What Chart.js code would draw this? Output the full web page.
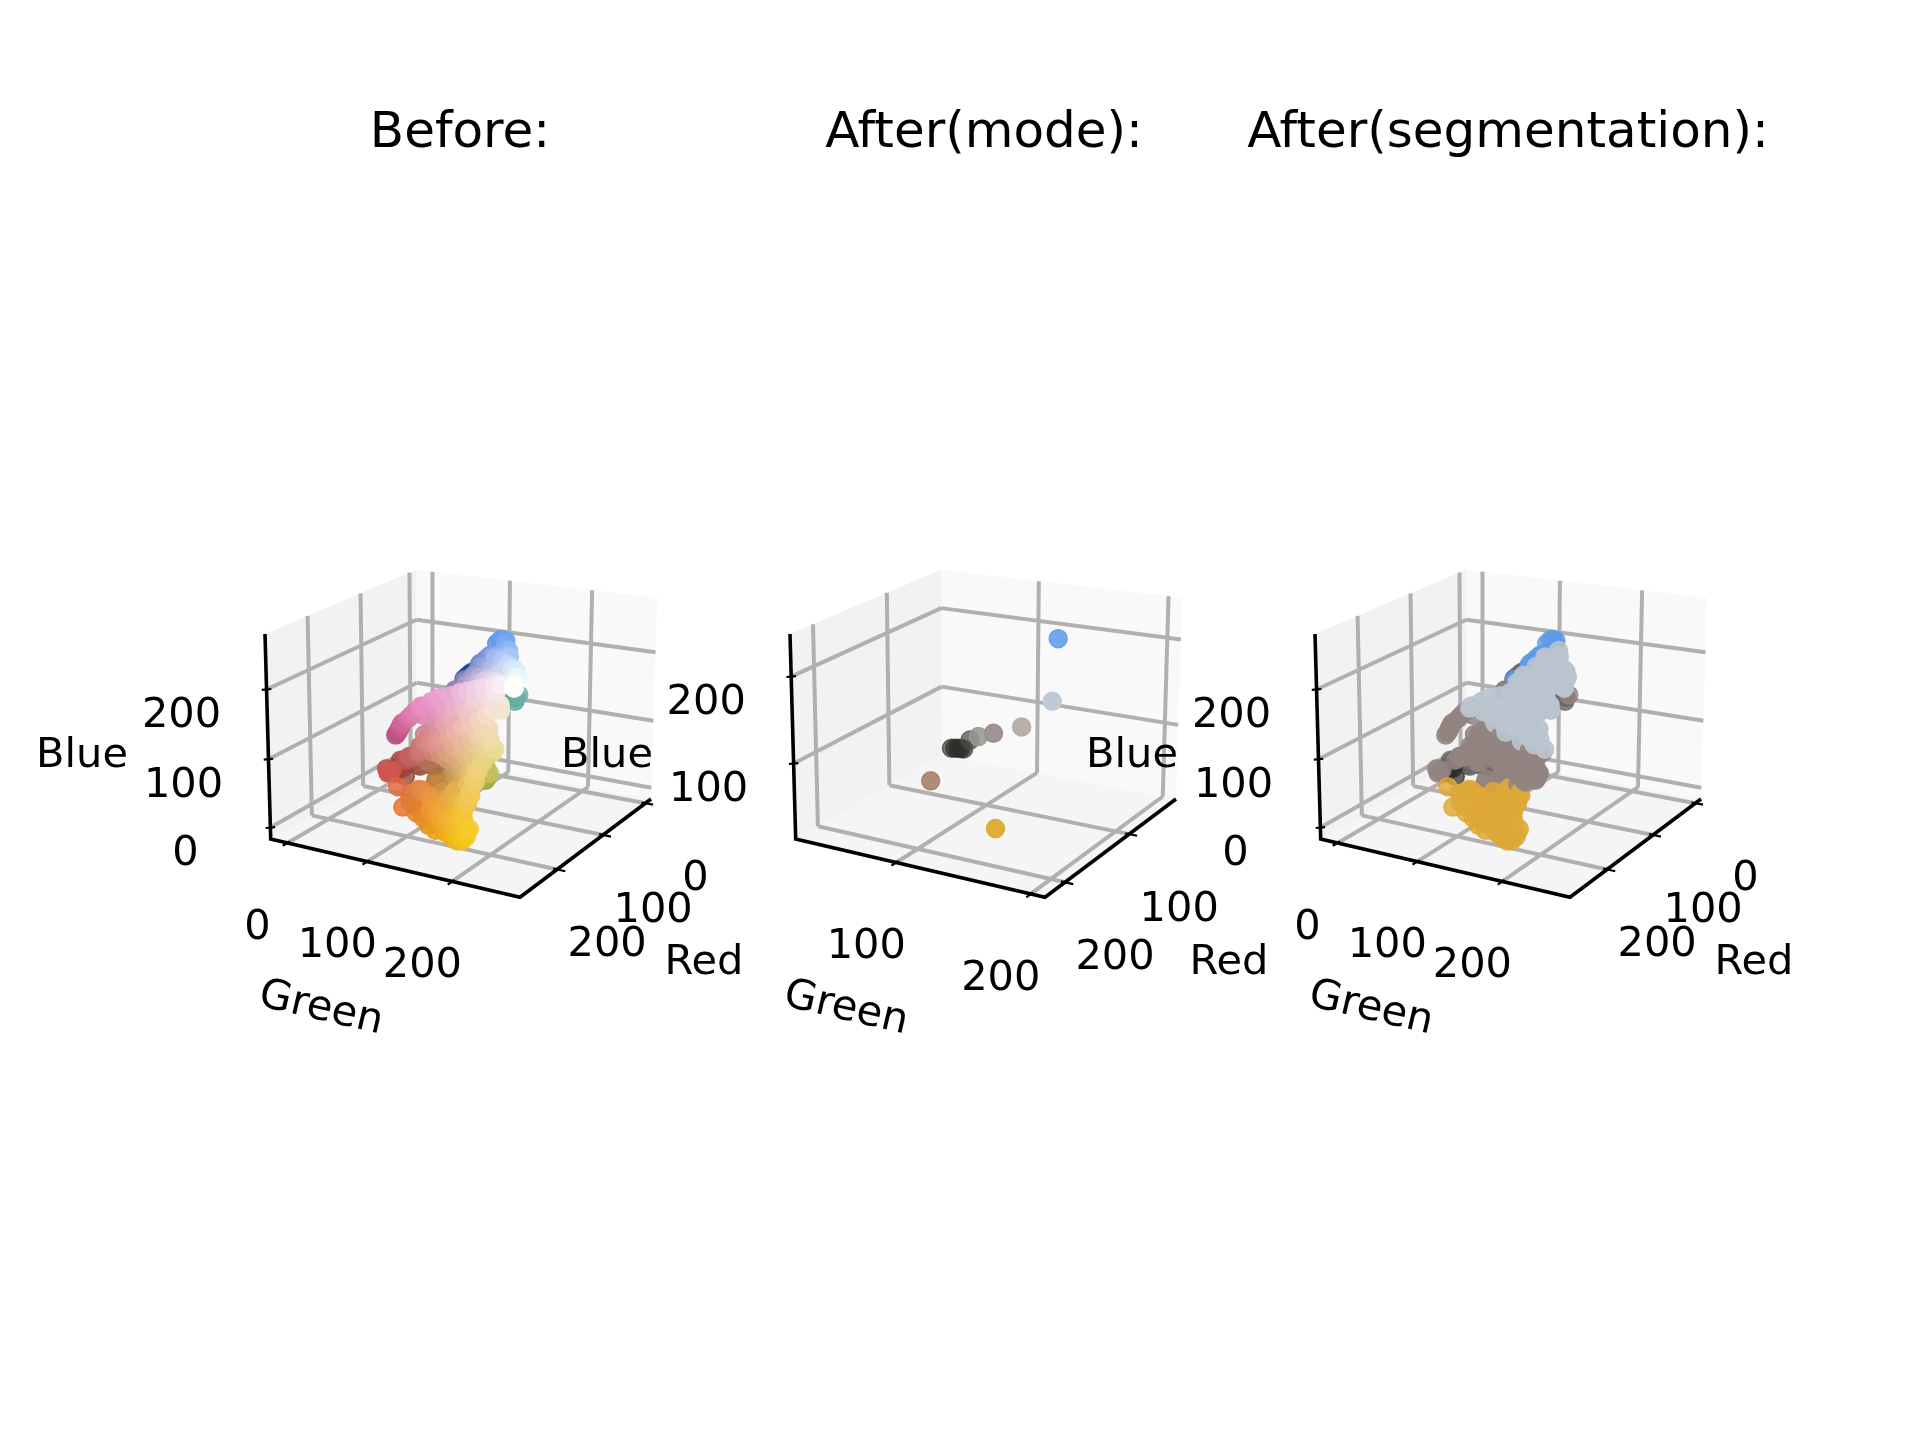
<!DOCTYPE html>
<html>
<head>
<meta charset="utf-8">
<title>Colour scatter</title>
<script src="https://cdn.jsdelivr.net/npm/chart.js@4/dist/chart.umd.js"></script>
<style>
  html, body { margin: 0; background: #fff; }
  canvas { display: block; }
</style>
</head>
<body>
<canvas id="chart" width="1920" height="1440"></canvas>
<script>
// colours of the picture (each point sits at its own colour)
const beforeRed = [
    0, 3, 8, 12, 18, 25, 32, 40,
    70, 85, 95, 100, 105, 110, 120, 130, 140, 150, 165,
    60, 75, 90, 105, 115, 125, 135, 150, 165, 180, 195, 210,
    225, 240, 250, 255, 245, 200, 215, 230,
    110, 125, 140, 155, 170, 185, 200, 215, 225, 235, 120, 135, 150, 165,
    180, 185, 190, 195, 200, 205, 210, 215, 220, 225, 230, 235,
    232, 235, 232, 235, 238, 240, 242, 245, 248,
    215, 220, 225, 230, 232, 235, 240, 242, 245,
    170, 180, 190, 200, 205, 212, 218, 222, 225, 230, 235, 238, 240, 242, 245, 245, 240, 235,
    165, 175, 185, 195,
    120, 125, 130, 135, 140, 145, 150, 155, 115, 128, 160, 140,
    205, 200, 208, 195,
    85, 95, 105, 115, 125, 135, 145, 155, 165, 110, 120, 130, 100, 125,
    175, 185, 195, 205, 212, 218, 222, 228, 232, 236, 238, 240,
    190, 200, 210, 218, 225, 230, 232, 235, 238,
    180, 195, 205, 215, 225, 232, 236,
    215, 225, 232, 205, 190, 175, 160, 150, 140, 145, 165, 180, 195,
    100, 95, 100, 105, 90,
    225, 222, 228, 230, 232, 234, 236, 238, 240, 242, 243, 244, 245,
    235, 236, 238, 240, 242, 243, 244, 245, 246, 240, 240, 238,
    232, 230, 228,
    228, 232, 235, 238, 240, 242, 244, 245,
    215, 222, 225, 220, 225, 230, 235, 240, 243,
    225, 228, 230, 232, 226, 230, 233,
    225, 222, 228,
    170, 185, 195, 205, 150, 160, 175, 190, 205, 215, 225, 130, 140, 150, 165, 180,
    215, 222, 228, 232, 236, 240, 205, 212, 218, 226, 232, 238, 190, 198, 206, 225, 235, 243,
    205, 212, 220, 226, 232, 238, 200, 210, 218, 226,
    205, 215, 222, 232, 236, 228, 232, 238, 240, 215, 225, 210, 195, 185, 175,
    150, 160, 140, 130, 170, 180,
    243, 243, 242, 240, 240
];
const beforeGreen = [
    50, 55, 60, 65, 70, 78, 85, 92,
    125, 140, 150, 155, 160, 165, 170, 175, 185, 190, 200,
    105, 115, 125, 135, 145, 155, 165, 175, 185, 200, 215, 228,
    238, 248, 252, 255, 250, 225, 235, 245,
    115, 125, 135, 145, 155, 170, 185, 200, 215, 225, 110, 120, 130, 140,
    74, 79, 84, 88, 93, 97, 102, 112, 119, 126, 135, 140,
    150, 160, 172, 185, 195, 205, 215, 228, 238,
    130, 145, 155, 165, 178, 190, 205, 218, 230,
    85, 95, 105, 115, 120, 130, 140, 150, 158, 170, 180, 190, 200, 210, 220, 228, 232, 230,
    70, 80, 90, 100,
    35, 38, 42, 45, 50, 55, 60, 65, 35, 40, 70, 60,
    82, 77, 87, 72,
    55, 62, 70, 78, 88, 95, 105, 115, 125, 65, 70, 80, 80, 105,
    130, 140, 150, 158, 165, 172, 180, 188, 196, 205, 212, 220,
    150, 160, 170, 178, 188, 196, 205, 212, 220,
    140, 155, 170, 180, 190, 200, 210,
    205, 215, 222, 195, 185, 180, 170, 165, 158, 162, 175, 185, 195,
    172, 168, 172, 178, 165,
    130, 125, 135, 140, 148, 152, 158, 165, 172, 178, 185, 190, 195,
    150, 158, 165, 172, 180, 186, 192, 198, 202, 185, 192, 195,
    165, 170, 175,
    155, 160, 165, 172, 178, 185, 192, 198,
    135, 145, 150, 150, 160, 165, 175, 185, 192,
    120, 129, 152, 140, 128, 145, 155,
    105, 117, 113,
    190, 195, 205, 215, 165, 175, 185, 190, 200, 210, 220, 145, 155, 150, 160, 175,
    150, 160, 175, 188, 200, 212, 125, 135, 148, 162, 175, 195, 110, 120, 130, 170, 205, 225,
    135, 148, 160, 172, 185, 205, 140, 155, 168, 182,
    165, 172, 180, 192, 200, 170, 180, 190, 200, 160, 165, 150, 135, 125, 120,
    85, 95, 75, 70, 105, 115,
    192, 198, 200, 205, 208
];
const beforeBlue = [
    125, 130, 135, 140, 145, 150, 158, 165,
    200, 225, 235, 238, 240, 242, 240, 238, 242, 240, 245,
    180, 185, 195, 205, 215, 225, 230, 235, 240, 245, 248, 250,
    245, 248, 248, 248, 242, 245, 250, 250,
    175, 185, 190, 195, 200, 210, 220, 230, 235, 240, 165, 170, 180, 185,
    116, 122, 128, 134, 140, 146, 152, 162, 170, 178, 187, 193,
    200, 208, 212, 220, 225, 230, 235, 240, 245,
    170, 180, 185, 190, 198, 205, 215, 225, 232,
    83, 88, 97, 108, 115, 130, 135, 140, 148, 155, 165, 175, 180, 190, 200, 210, 215, 205,
    72, 78, 86, 97,
    33, 36, 38, 40, 43, 48, 53, 58, 30, 30, 58, 35,
    75, 70, 80, 73,
    30, 35, 40, 45, 55, 60, 65, 75, 85, 45, 50, 55, 35, 50,
    95, 100, 110, 118, 125, 130, 138, 145, 155, 165, 172, 180,
    85, 95, 105, 115, 125, 135, 145, 155, 165,
    70, 80, 90, 100, 110, 120, 130,
    130, 140, 150, 115, 100, 90, 80, 70, 62, 55, 70, 85, 95,
    160, 150, 158, 165, 155,
    70, 65, 72, 70, 68, 62, 58, 55, 52, 50, 48, 50, 52,
    50, 45, 42, 40, 38, 36, 35, 38, 42, 55, 62, 72,
    60, 70, 80,
    35, 30, 28, 25, 25, 25, 28, 30,
    42, 35, 28, 40, 25, 20, 18, 18, 22,
    50, 38, 30, 35, 45, 25, 22,
    68, 60, 42,
    230, 230, 235, 240, 220, 225, 228, 225, 230, 235, 238, 210, 215, 205, 210, 218,
    175, 180, 190, 198, 205, 215, 138, 145, 160, 170, 180, 195, 112, 122, 135, 172, 200, 220,
    115, 120, 128, 140, 150, 175, 110, 112, 122, 135,
    75, 78, 82, 95, 105, 65, 70, 72, 85, 60, 55, 65, 65, 60, 60,
    60, 70, 55, 55, 80, 85,
    60, 75, 90, 105, 120
];

// the points of the middle panel and the "mode" colour each one is shown in
const modeRed = [100, 199, 178, 163, 145, 75, 48, 45, 42, 40, 38, 199, 222];
const modeGreen = [155, 199, 167, 127, 129, 73, 53, 49, 45, 41, 37, 110, 171];
const modeBlue = [221, 203, 158, 130, 126, 71, 42, 40, 38, 36, 34, 92, 69];
const modeColors = [
    [93, 155, 235], [190, 203, 214], [178, 170, 165], [150, 150, 145], [145, 130, 130], [75, 73, 68],
    [48, 48, 42], [46, 46, 40], [44, 44, 38], [42, 42, 37], [40, 40, 35], [170, 125, 105], [222, 168, 45]
];

// the colours the right panel is reduced to, and the centre each one collects around
const segmentNames = ['blue', 'silver', 'taupe', 'gold', 'dark', 'gray'];
const segmentColors = [[94, 155, 232], [186, 196, 206], [146, 132, 128], [222, 168, 56], [48, 47, 43], [105, 105, 105]];
const centerRed = [85, 195, 180, 235, 85, 105];
const centerGreen = [140, 200, 155, 175, 50, 105];
const centerBlue = [250, 215, 115, 30, 40, 105];

const panelTitles = ['Before:', 'After(mode):', 'After(segmentation):'];
const titleCenters = [460, 984, 1508];
const panelShift = [0, 525, 1050];

// axis limits and ticks, per panel
const greenLimits = [[-22, 275], [18, 210], [-22, 275]];
const redLimits = [[-14, 275], [19, 229], [-14, 275]];
const blueLimits = [[-17, 278], [11, 248], [-17, 278]];
const greenTicks = [[0, 100, 200], [100, 200], [0, 100, 200]];
const redTicks = [[0, 100, 200], [100, 200], [0, 100, 200]];
const blueTicks = [[0, 100, 200], [100, 200], [0, 100, 200]];

// box corners on the page, first panel: [green, red, blue] in 0..1
const cO = [417, 755], cU = [651, 799], cV = [270.7, 839], cUV = [520, 897.3];
const cVW = [265, 634];
const verticalVanish = [451, 7330];

function det3(a, b, c) {
    return a[0] * (b[1] * c[2] - b[2] * c[1]) - b[0] * (a[1] * c[2] - a[2] * c[1]) + c[0] * (a[1] * b[2] - a[2] * b[1]);
}

// projective camera from the corners above
const h = p => [p[0], p[1], 1];
const hO = h(cO), hU = h(cU), hV = h(cV), hUV = h(cUV);
const base = det3(hU, hV, hUV.map(n => -n));
const lu = det3(hO, hV, hUV.map(n => -n)) / base;
const lv = det3(hU, hO, hUV.map(n => -n)) / base;
const camU = [0, 1, 2].map(i => lu * hU[i] - hO[i]);
const camV = [0, 1, 2].map(i => lv * hV[i] - hO[i]);
const kappa = lv * (cVW[1] - cV[1]) / (verticalVanish[1] - cVW[1]);
const camW = [verticalVanish[0] * kappa, verticalVanish[1] * kappa, kappa];

function unit(u, v, w, panel) {
    const p = [0, 1, 2].map(i => u * camU[i] + v * camV[i] + w * camW[i] + hO[i]);
    return { x: p[0] / p[2] + panelShift[panel], y: p[1] / p[2] };
}

function project(r, g, b, panel) {
    const u = (g - greenLimits[panel][0]) / (greenLimits[panel][1] - greenLimits[panel][0]);
    const v = (r - redLimits[panel][0]) / (redLimits[panel][1] - redLimits[panel][0]);
    const w = (b - blueLimits[panel][0]) / (blueLimits[panel][1] - blueLimits[panel][0]);
    return unit(u, v, w, panel);
}

const gap = { x: NaN, y: NaN };

function frac(value, limits) {
    return (value - limits[0]) / (limits[1] - limits[0]);
}

function lineSet(data, color, width, order) {
    return { data, showLine: true, borderColor: color, borderWidth: width, pointRadius: 0, fill: false, order, borderCapStyle: 'butt', borderJoinStyle: 'miter' };
}

function paneSet(panel, corners, color) {
    return {
        data: corners.map(c => unit(c[0], c[1], c[2], panel)),
        showLine: true, borderWidth: 0, borderColor: 'rgba(0,0,0,0)', backgroundColor: color, pointRadius: 0, fill: 'shape', order: 100
    };
}

function frameSets(panel) {
    const grid = [];
    const ticks = [];
    const seg = (list, a, b) => list.push(unit(a[0], a[1], a[2], panel), unit(b[0], b[1], b[2], panel), gap);
    greenTicks[panel].forEach(t => {
        const u = frac(t, greenLimits[panel]);
        seg(grid, [u, 1, 0], [u, 0, 0]);
        seg(grid, [u, 0, 0], [u, 0, 1]);
        seg(ticks, [u, 0.985, 0], [u, 1.03, 0]);
    });
    redTicks[panel].forEach(t => {
        const v = frac(t, redLimits[panel]);
        seg(grid, [1, v, 0], [0, v, 0]);
        seg(grid, [0, v, 0], [0, v, 1]);
        seg(ticks, [0.985, v, 0], [1.03, v, 0]);
    });
    blueTicks[panel].forEach(t => {
        const w = frac(t, blueLimits[panel]);
        seg(grid, [0, 1, w], [0, 0, w]);
        seg(grid, [0, 0, w], [1, 0, w]);
        seg(ticks, [-0.012, 1.012, w], [0.012, 0.988, w]);
    });
    const axes = [];
    axes.push(unit(0, 1, 1, panel), unit(0, 1, 0, panel), unit(1, 1, 0, panel), unit(1, 0, 0, panel));
    return [
        paneSet(panel, [[0, 0, 0], [0, 1, 0], [0, 1, 1], [0, 0, 1]], '#f2f2f2'),
        paneSet(panel, [[0, 0, 0], [1, 0, 0], [1, 0, 1], [0, 0, 1]], '#f9f9f9'),
        paneSet(panel, [[0, 0, 0], [1, 0, 0], [1, 1, 0], [0, 1, 0]], '#f5f5f5'),
        lineSet(grid, '#b0b0b0', 4, 90),
        lineSet(axes, '#000000', 3.6, 80),
        lineSet(ticks, '#000000', 2.2, 80)
    ];
}

function pointSet(panel, reds, greens, blues, colorOf) {
    // far points first so near ones cover them, near ones also less see-through
    const depth = reds.map((r, i) => 0.81 * r + 0.47 * greens[i] + 0.34 * blues[i]);
    const minD = Math.min(...depth);
    const maxD = Math.max(...depth);
    const idx = reds.map((_, i) => i).sort((a, b) => depth[a] - depth[b]);
    const fills = [];
    const edges = [];
    idx.forEach(i => {
        const alpha = 0.62 + 0.38 * (depth[i] - minD) / (maxD - minD);
        const c = colorOf(i);
        fills.push(`rgba(${c[0]},${c[1]},${c[2]},${alpha.toFixed(2)})`);
        edges.push(`rgba(${c[0]},${c[1]},${c[2]},${alpha.toFixed(2)})`);
    });
    return {
        data: idx.map(i => project(reds[i], greens[i], blues[i], panel)),
        showLine: false, pointRadius: 9, pointBorderWidth: 1.5,
        pointBackgroundColor: fills, pointBorderColor: edges, order: 10
    };
}

function nearestSegment(i) {
    let best = 0;
    let bestDist = Infinity;
    segmentNames.forEach((name, k) => {
        const d = (beforeRed[i] - centerRed[k]) ** 2 + (beforeGreen[i] - centerGreen[k]) ** 2 + (beforeBlue[i] - centerBlue[k]) ** 2;
        if (d < bestDist) { bestDist = d; best = k; }
    });
    return segmentColors[best];
}

const datasets = [
    ...frameSets(0),
    ...frameSets(1),
    ...frameSets(2),
    pointSet(0, beforeRed, beforeGreen, beforeBlue, i => [beforeRed[i], beforeGreen[i], beforeBlue[i]]),
    pointSet(1, modeRed, modeGreen, modeBlue, i => modeColors[i]),
    pointSet(2, beforeRed, beforeGreen, beforeBlue, nearestSegment)
];

// matplotlib style 3d text: titles, tick labels and axis names
const textPlugin = {
    id: 'text3d',
    afterDraw(chart) {
        const ctx = chart.ctx;
        const sx = chart.scales.x;
        const sy = chart.scales.y;
        ctx.save();
        ctx.fillStyle = '#000';
        ctx.textAlign = 'center';
        ctx.textBaseline = 'middle';
        ctx.font = '50px "DejaVu Sans"';
        panelTitles.forEach((t, i) => ctx.fillText(t, titleCenters[i], 134));
        ctx.font = '41.5px "DejaVu Sans"';
        [0, 1, 2].forEach(panel => {
            const put = (t, p, dx, dy) => ctx.fillText(String(t), sx.getPixelForValue(p.x) + dx, sy.getPixelForValue(p.y) + dy);
            greenTicks[panel].forEach(t => put(t, unit(frac(t, greenLimits[panel]), 1, 0, panel), -30, 85));
            redTicks[panel].forEach(t => put(t, unit(1, frac(t, redLimits[panel]), 0, panel), 50, 76));
            blueTicks[panel].forEach(t => put(t, unit(0, 1, frac(t, blueLimits[panel]), panel), -85, 27));
            const shift = panelShift[panel];
            ctx.fillText('Blue', 82 + shift, 756);
            ctx.fillText('Red', 704 + shift, 963);
            ctx.save();
            ctx.translate(321 + shift, 1009);
            ctx.rotate(13 * Math.PI / 180);
            ctx.fillText('Green', 0, 0);
            ctx.restore();
        });
        ctx.restore();
    }
};

new Chart(document.getElementById('chart'), {
    type: 'scatter',
    data: { datasets },
    options: {
        responsive: false,
        animation: false,
        devicePixelRatio: 1,
        events: [],
        layout: { padding: 0, autoPadding: false },
        plugins: { legend: { display: false }, tooltip: { enabled: false }, title: { display: false } },
        elements: { line: { tension: 0 } },
        scales: {
            x: { type: 'linear', display: false, min: 0, max: 1920 },
            y: { type: 'linear', display: false, min: 0, max: 1440, reverse: true }
        }
    },
    plugins: [textPlugin]
});
</script>
</body>
</html>
